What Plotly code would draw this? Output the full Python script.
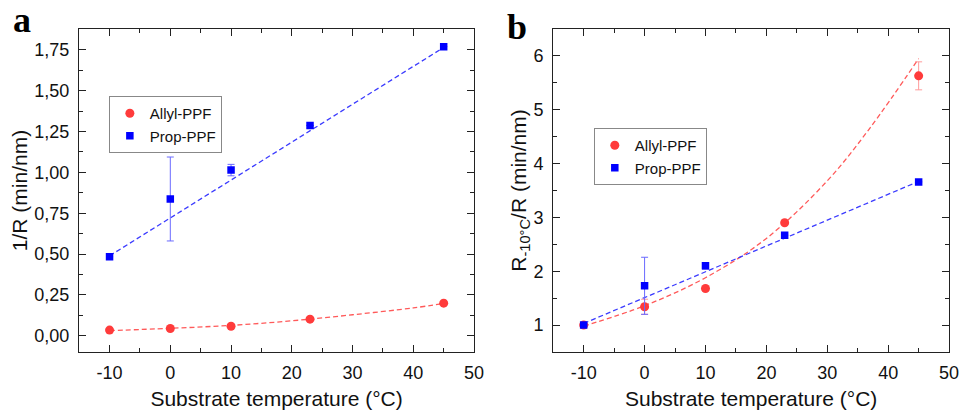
import plotly.graph_objects as go

# ---------------- data ----------------
temps = [-10, 0, 10, 23, 45]

# panel a : 1/R (min/nm)
a_allyl = [0.034, 0.044, 0.058, 0.101, 0.199]
a_allyl_err = [0, 0, 0, 0, 0]
a_prop = [0.483, 0.837, 1.014, 1.287, 1.770]
a_prop_err = [0, 0.257, 0.035, 0, 0]

# panel a fit curves
a_fit_allyl_x = [-10, 0, 10, 20, 30, 40, 45]
a_fit_allyl_y = [0.031, 0.045, 0.063, 0.091, 0.128, 0.170, 0.197]
a_fit_prop_x = [-10, 45]
a_fit_prop_y = [0.489, 1.765]

# panel b : R(-10°C)/R
b_allyl = [1.00, 1.34, 1.68, 2.90, 5.63]
b_allyl_err = [0, 0.14, 0, 0, 0.26]
b_prop = [1.00, 1.73, 2.10, 2.67, 3.66]
b_prop_err = [0, 0.53, 0.06, 0, 0]

b_fit_allyl_x = [-10, 0, 10, 20, 30, 37, 45]
b_fit_allyl_y = [0.98, 1.36, 1.88, 2.61, 3.68, 4.66, 5.95]
b_fit_prop_x = [-10, 45]
b_fit_prop_y = [1.03, 3.67]

a_yticks = [0, 0.25, 0.5, 0.75, 1.0, 1.25, 1.5, 1.75]
a_yticktext = ["0,00", "0,25", "0,50", "0,75", "1,00", "1,25", "1,50", "1,75"]
b_yticks = [1, 2, 3, 4, 5, 6]
x_ticks = [-10, 0, 10, 20, 30, 40, 50]
x_ticktext = ["-10", "0", "10", "20", "30", "40", "50"]

RED = "#FF3B3B"
BLUE = "#0000FF"
RED_LINE = "#FF5A5A"
BLUE_LINE = "#3B3BFF"
RED_ERR = "#FF9A9A"
BLUE_ERR = "#6A6AFF"
FONT = "Liberation Sans, Arial, sans-serif"

fig = go.Figure()

# ---- panel a ----
fig.add_trace(go.Scatter(x=a_fit_allyl_x, y=a_fit_allyl_y, mode="lines", line=dict(color=RED_LINE, width=1.3, dash="5px,3px", shape="spline"),
                         showlegend=False, hoverinfo="skip", xaxis="x", yaxis="y"))
fig.add_trace(go.Scatter(x=a_fit_prop_x, y=a_fit_prop_y, mode="lines", line=dict(color=BLUE_LINE, width=1.3, dash="5px,3px"),
                         showlegend=False, hoverinfo="skip", xaxis="x", yaxis="y"))
fig.add_trace(go.Scatter(x=temps, y=a_allyl, mode="markers", name="Allyl-PPF",
                         marker=dict(symbol="circle", size=9, color=RED),
                         error_y=dict(type="data", array=a_allyl_err, color=RED_ERR, thickness=1, width=3.5),
                         xaxis="x", yaxis="y", legend="legend"))
fig.add_trace(go.Scatter(x=temps, y=a_prop, mode="markers", name="Prop-PPF",
                         marker=dict(symbol="square", size=7.5, color=BLUE),
                         error_y=dict(type="data", array=a_prop_err, color=BLUE_ERR, thickness=1, width=3.5),
                         xaxis="x", yaxis="y", legend="legend"))

# ---- panel b ----
fig.add_trace(go.Scatter(x=b_fit_allyl_x, y=b_fit_allyl_y, mode="lines", line=dict(color=RED_LINE, width=1.3, dash="5px,3px", shape="spline"),
                         showlegend=False, hoverinfo="skip", xaxis="x2", yaxis="y2"))
fig.add_trace(go.Scatter(x=b_fit_prop_x, y=b_fit_prop_y, mode="lines", line=dict(color=BLUE_LINE, width=1.3, dash="5px,3px"),
                         showlegend=False, hoverinfo="skip", xaxis="x2", yaxis="y2"))
fig.add_trace(go.Scatter(x=temps, y=b_allyl, mode="markers", name="Allyl-PPF",
                         marker=dict(symbol="circle", size=9, color=RED),
                         error_y=dict(type="data", array=b_allyl_err, color=RED_ERR, thickness=1, width=3.5),
                         xaxis="x2", yaxis="y2", legend="legend2"))
fig.add_trace(go.Scatter(x=temps, y=b_prop, mode="markers", name="Prop-PPF",
                         marker=dict(symbol="square", size=7.5, color=BLUE),
                         error_y=dict(type="data", array=b_prop_err, color=BLUE_ERR, thickness=1, width=3.5),
                         xaxis="x2", yaxis="y2", legend="legend2"))

axis_common = dict(showline=True, mirror="ticks", linecolor="#222", linewidth=1.4,
                   ticks="inside", ticklen=7, tickwidth=1.3, tickcolor="#222",
                   showgrid=False, zeroline=False,
                   tickfont=dict(family=FONT, size=18, color="#111"))

xa = dict(axis_common, range=[-15, 50], tickvals=x_ticks, ticktext=x_ticktext,
          minor=dict(dtick=5, ticks="inside", ticklen=4, tickwidth=1.2, tickcolor="#222"),
          title=dict(text="Substrate temperature (°C)", font=dict(family=FONT, size=21, color="#111"), standoff=9),
          ticklabelstandoff=4)

fig.update_layout(
    width=969, height=410,
    margin=dict(l=0, r=0, t=0, b=0),
    paper_bgcolor="white", plot_bgcolor="white",
    xaxis=dict(xa, domain=[80/969, 479/969], anchor="y"),
    yaxis=dict(axis_common, domain=[1-352/410, 1-29/410], anchor="x", range=[-0.1, 1.878],
               tickvals=a_yticks, ticktext=a_yticktext,
               minor=dict(dtick=0.125, tick0=0, ticks="inside", ticklen=4, tickwidth=1.2, tickcolor="#222"),
               title=dict(text="1/R (min/nm)", font=dict(family=FONT, size=21, color="#111"), standoff=0),
               ticklabelstandoff=5),
    xaxis2=dict(xa, domain=[559/969, 959/969], anchor="y2"),
    yaxis2=dict(axis_common, domain=[1-352/410, 1-29/410], anchor="x2", range=[0.5, 6.5],
                tickvals=b_yticks,
                minor=dict(dtick=0.5, tick0=0.5, ticks="inside", ticklen=4, tickwidth=1.2, tickcolor="#222"),
                title=dict(text="R<sub>-10°C</sub>/R (min/nm)", font=dict(family=FONT, size=21, color="#111"), standoff=0),
                ticklabelstandoff=5),
    legend=dict(x=110/969, y=1-96/410, xanchor="left", yanchor="top",
                bgcolor="white", bordercolor="#888", borderwidth=1,
                font=dict(family=FONT, size=15, color="#111"), tracegroupgap=0),
    legend2=dict(x=600/969, y=1-128/410, xanchor="left", yanchor="top",
                 bgcolor="white", bordercolor="#888", borderwidth=1,
                 font=dict(family=FONT, size=15, color="#111"), tracegroupgap=0),
    annotations=[
        dict(text="<b>a</b>", x=11/969, y=1-33/410, xref="paper", yref="paper", xanchor="left", yanchor="bottom",
             showarrow=False, font=dict(family="Liberation Serif, Times New Roman, serif", size=36, color="black"), yshift=-9),
        dict(text="<b>b</b>", x=510/969, y=1-40/410, xref="paper", yref="paper", xanchor="left", yanchor="bottom",
             showarrow=False, font=dict(family="Liberation Serif, Times New Roman, serif", size=36, color="black"), yshift=-9),
    ],
)

fig.write_html("out.html")
